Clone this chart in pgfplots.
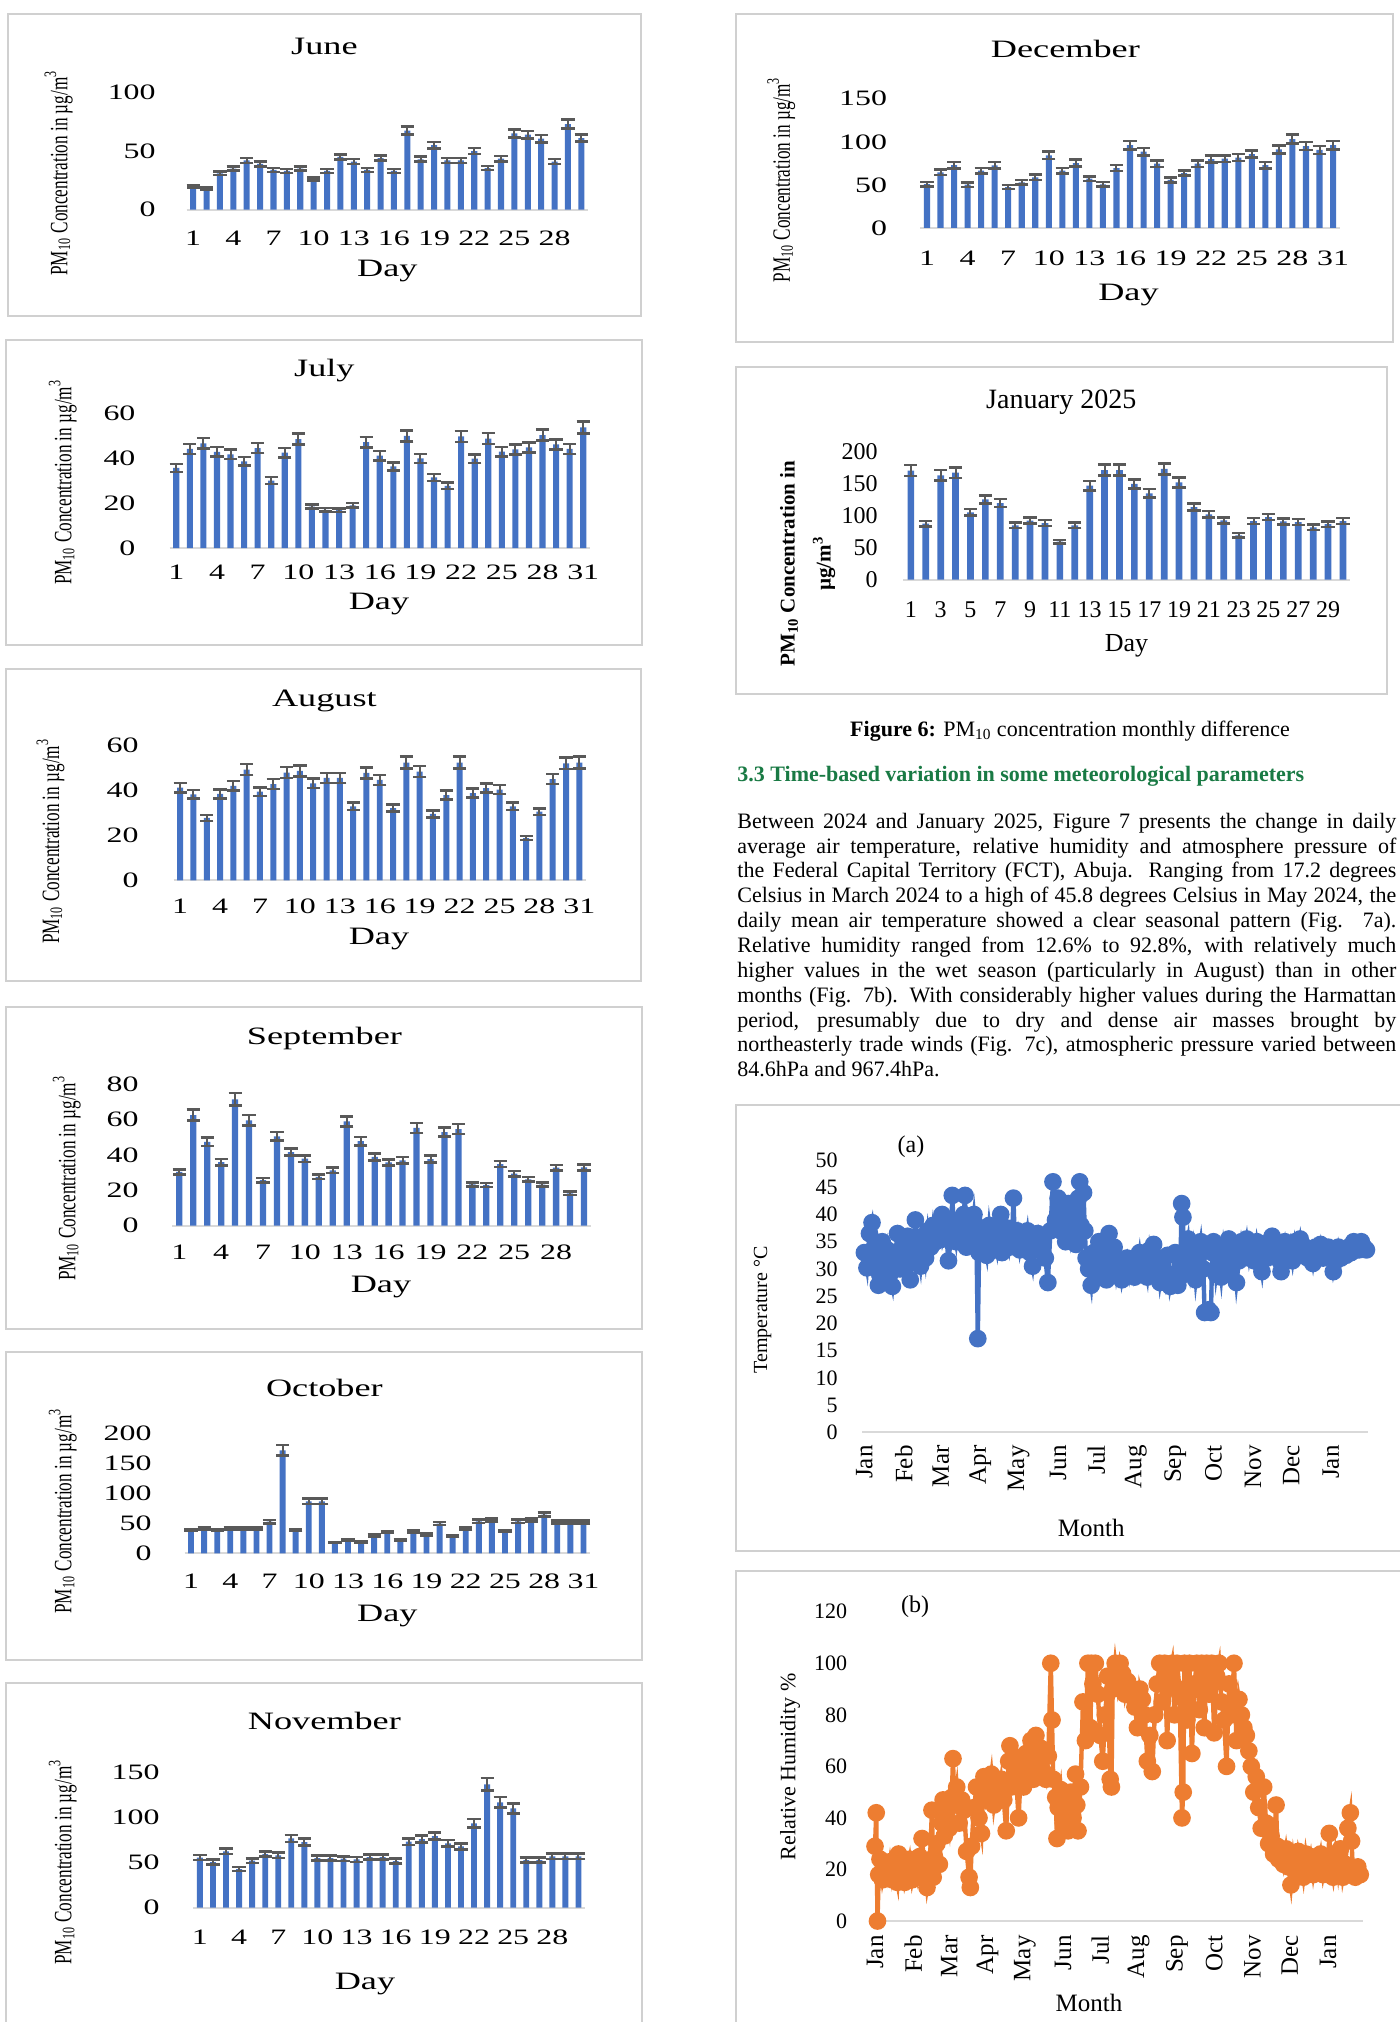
\documentclass[border=0pt]{standalone}
\usepackage{fontspec}
\setmainfont{Liberation Serif}
\newfontfamily\wide[FakeStretch=1.45]{Liberation Serif}
\usepackage{graphicx}
\usepackage{pgfplots}
\pgfplotsset{compat=1.18}

\definecolor{barblue}{HTML}{4472C4}
\definecolor{errgray}{HTML}{595959}
\definecolor{axisgray}{HTML}{D9D9D9}
\definecolor{boxgray}{HTML}{D0D0D0}
\definecolor{rhorange}{HTML}{ED7D31}
\definecolor{headgreen}{RGB}{25,122,68}

\newcommand\pmlab{PM\textsubscript{10} Concentration in µg/m\textsuperscript{3}}
\newcommand\wlab[1]{\node[rotate=90] at (#1) {\scalebox{1}[1.45]{\fontsize{8.6}{10}\selectfont\pmlab}};}
\newcommand\wtxt[2]{\node[font=\wide\fontsize{12.5}{14}\selectfont] at (#1) {#2};}

\pgfplotsset{
  pmbase/.style={
    scale only axis, anchor=south west, clip=false,
    ymin=0,
    axis x line=bottom, axis y line=left,
    x axis line style={draw=axisgray, line width=1pt, -},
    y axis line style={draw=none},
    tick style={draw=none}, tick align=inside,
    /pgf/number format/assume math mode=true,
    yticklabel style={anchor=east, inner sep=0pt},
    xticklabel style={anchor=center, inner sep=0pt},
  },
  pmbar/.style={pmbase, xmin=0.5,
    yticklabel style={font=\wide\fontsize{11}{11}\selectfont},
    xticklabel style={font=\wide\fontsize{11}{11}\selectfont}},
  pmbars/.style={ybar, bar width=0.45, fill=barblue, draw=none,
    error bars/y dir=both, error bars/y fixed relative=0.05,
    error bars/error bar style={line width=1pt, errgray},
    error bars/error mark options={rotate=90, errgray, mark size=3.3pt, line width=1.3pt}},
  metline/.style={line width=2.2pt, mark=*, mark size=3.3pt,
    mark options={line width=0.4pt}},
}

\begin{document}
\begin{tikzpicture}
\fill[white] (0,0) rectangle (700pt,-1011pt);

% ---------- frames
\draw[boxgray, line width=1pt] (4pt,-7pt) rectangle (320.5pt,-158pt);
\draw[boxgray, line width=1pt] (3.2pt,-170pt) rectangle (321pt,-322.5pt);
\draw[boxgray, line width=1pt] (3pt,-334.5pt) rectangle (320.5pt,-490.5pt);
\draw[boxgray, line width=1pt] (3pt,-503.5pt) rectangle (321pt,-664.5pt);
\draw[boxgray, line width=1pt] (3pt,-676pt) rectangle (321pt,-830pt);
\draw[boxgray, line width=1pt] (3pt,-841.5pt) rectangle (321pt,-1015pt);
\draw[boxgray, line width=1pt] (368pt,-7pt) rectangle (696.5pt,-171pt);
\draw[boxgray, line width=1pt] (368pt,-183.5pt) rectangle (693.5pt,-347pt);
\draw[boxgray, line width=1pt] (368pt,-552.5pt) rectangle (702.5pt,-775.5pt);
\draw[boxgray, line width=1pt] (368pt,-785.5pt) rectangle (702.5pt,-1015pt);

% ---------- June
\begin{axis}[pmbar, at={(93.25pt,-104.85pt)}, width=200.75pt, height=58.65pt,
  xmax=30.5, ymax=100, ytick={0,50,100}, xtick={1,4,...,28},
  yticklabel style={xshift=-15.25pt}, xticklabel style={yshift=-14.15pt}]
\addplot[pmbars] coordinates {(1,20)(2,18)(3,31)(4,35)(5,42)(6,39)(7,34)(8,33)(9,35)(10,26)(11,33)(12,45)(13,41)(14,34)(15,44)(16,33)(17,67.5)(18,43)(19,55)(20,42)(21,42)(22,50)(23,35.5)(24,43.5)(25,65)(26,64)(27,60.5)(28,41)(29,73)(30,61)};
\end{axis}
\wtxt{162.2pt,-23.15pt}{June}
\wtxt{193.65pt,-135.65pt}{Day}
\wlab{29.35pt,-86.5pt}

% ---------- July
\begin{axis}[pmbar, at={(84.75pt,-274pt)}, width=210.25pt, height=67.5pt,
  xmax=31.5, ymax=60, ytick={0,20,40,60}, xtick={1,4,...,31},
  yticklabel style={xshift=-16.85pt}, xticklabel style={yshift=-12.15pt}]
\addplot[pmbars] coordinates {(1,35.6)(2,44)(3,46.5)(4,42.7)(5,41.6)(6,38.5)(7,44.4)(8,30)(9,42.4)(10,48.4)(11,18.4)(12,17)(13,16.8)(14,19)(15,47)(16,41)(17,36.3)(18,49.8)(19,39.8)(20,31.4)(21,27.6)(22,49.6)(23,39.7)(24,48.6)(25,42.8)(26,43.8)(27,44.7)(28,50.2)(29,46)(30,44)(31,53.6)};
\end{axis}
\wtxt{162.2pt,-185.35pt}{July}
\wtxt{189.5pt,-302pt}{Day}
\wlab{31.4pt,-241.15pt}

% ---------- August
\begin{axis}[pmbar, at={(86.75pt,-440.15pt)}, width=206.25pt, height=67.5pt,
  xmax=31.5, ymax=60, ytick={0,20,40,60}, xtick={1,4,...,31},
  yticklabel style={xshift=-17.25pt}, xticklabel style={yshift=-13pt}]
\addplot[pmbars] coordinates {(1,41.2)(2,38.2)(3,27.7)(4,38.4)(5,42)(6,49.2)(7,39.4)(8,42.8)(9,47.9)(10,48.6)(11,43.1)(12,45.5)(13,45.5)(14,32.9)(15,47.7)(16,44.6)(17,32.1)(18,52.3)(19,48.3)(20,29.5)(21,37.9)(22,52.3)(23,38.8)(24,41)(25,40.3)(26,32.9)(27,18.8)(28,30.5)(29,45)(30,52)(31,52.3)};
\end{axis}
\wtxt{162.2pt,-350.65pt}{August}
\wtxt{189.5pt,-469.35pt}{Day}
\wlab{25.3pt,-420.65pt}

% ---------- September
\begin{axis}[pmbar, at={(86.15pt,-612.85pt)}, width=209.35pt, height=70.7pt,
  xmax=30.5, ymax=80, ytick={0,20,...,80}, xtick={1,4,...,28},
  yticklabel style={xshift=-16.65pt}, xticklabel style={yshift=-13.3pt}]
\addplot[pmbars] coordinates {(1,30.4)(2,62.6)(3,47.4)(4,36)(5,71.5)(6,59.6)(7,25.8)(8,50.6)(9,41.7)(10,37.9)(11,27.7)(12,31.3)(13,59)(14,47.9)(15,38.9)(16,35.8)(17,37)(18,55.3)(19,37.7)(20,53)(21,54.7)(22,23.4)(23,23)(24,34.9)(25,29.4)(26,26.2)(27,23.2)(28,32.8)(29,18.3)(30,33)};
\end{axis}
\wtxt{162.2pt,-519.15pt}{September}
\wtxt{190.5pt,-643.35pt}{Day}
\wlab{33.4pt,-589.15pt}

% ---------- October
\begin{axis}[pmbar, at={(92.25pt,-776.65pt)}, width=202.75pt, height=60pt,
  xmax=31.5, ymax=200, ytick={0,50,...,200}, xtick={1,4,...,31},
  yticklabel style={xshift=-16.25pt}, xticklabel style={yshift=-13.85pt}]
\addplot[pmbars] coordinates {(1,38.9)(2,41.7)(3,38.9)(4,41.7)(5,41.7)(6,41.7)(7,52.8)(8,171.7)(9,38.9)(10,86.7)(11,86.7)(12,17.8)(13,22.8)(14,18.9)(15,30)(16,35.6)(17,22.2)(18,36.7)(19,31.7)(20,49.4)(21,28.3)(22,41.1)(23,53.3)(24,55.6)(25,37.2)(26,53.3)(27,55.6)(28,64.4)(29,52.2)(30,52.2)(31,52.2)};
\end{axis}
\wtxt{162.2pt,-693.85pt}{October}
\wtxt{193.65pt,-808pt}{Day}
\wlab{31.4pt,-755.5pt}

% ---------- November
\begin{axis}[pmbar, at={(96.7pt,-953.85pt)}, width=195.8pt, height=67.85pt,
  xmax=30.5, ymax=150, ytick={0,50,100,150}, xtick={1,4,...,28},
  yticklabel style={xshift=-16.7pt}, xticklabel style={yshift=-14.65pt}]
\addplot[pmbars] coordinates {(1,55.3)(2,50.5)(3,62.3)(4,42.8)(5,52)(6,59.3)(7,57.9)(8,76.7)(9,72.6)(10,54.9)(11,54.9)(12,54.2)(13,53.4)(14,56)(15,56)(16,51.6)(17,73)(18,75.9)(19,79.2)(20,71.1)(21,67.8)(22,93.3)(23,136.4)(24,116.5)(25,109.8)(26,52.7)(27,52.7)(28,56.8)(29,56.8)(30,56.8)};
\end{axis}
\wtxt{162.2pt,-860.65pt}{November}
\wtxt{182.5pt,-991.85pt}{Day}
\wlab{31.4pt,-931pt}

% ---------- December
\begin{axis}[pmbar, at={(460.1pt,-114pt)}, width=209.8pt, height=64.65pt,
  xmax=31.5, ymax=150, ytick={0,50,100,150}, xtick={1,4,...,31},
  yticklabel style={xshift=-16.4pt}, xticklabel style={yshift=-15pt}]
\addplot[pmbars] coordinates {(1,51)(2,64.6)(3,73)(4,50.3)(5,66.5)(6,72.7)(7,47.5)(8,53)(9,58.8)(10,84.3)(11,66.5)(12,75.4)(13,57.2)(14,50.6)(15,69.6)(16,96.2)(17,88.5)(18,74.6)(19,55.7)(20,63.8)(21,74.6)(22,80)(23,80.4)(24,81.6)(25,85.8)(26,73)(27,91.2)(28,103.2)(29,95.1)(30,90.5)(31,96.2)};
\end{axis}
\wtxt{532.7pt,-24.5pt}{December}
\wtxt{564.25pt,-147.35pt}{Day}
\wlab{390.65pt,-89.85pt}

% ---------- January 2025
\begin{axis}[pmbase, xmin=0.5, at={(451.7pt,-289.85pt)}, width=223.5pt, height=63.85pt,
  xmax=30.5, ymax=200, ytick={0,50,...,200}, xtick={1,3,...,29},
  yticklabel style={font=\fontsize{12}{12}\selectfont, xshift=-12.7pt},
  xticklabel style={font=\fontsize{12}{12}\selectfont, yshift=-15pt}]
\addplot[pmbars] coordinates {(1,170.8)(2,87.7)(3,163.4)(4,167.6)(5,105.5)(6,125.8)(7,120.1)(8,85.1)(9,92.4)(10,88.8)(11,59.5)(12,85.1)(13,147.3)(14,171.8)(15,171.8)(16,149.9)(17,135.2)(18,173.4)(19,152.5)(20,113.8)(21,102.3)(22,93)(23,69.5)(24,91.9)(25,98.2)(26,91.4)(27,90.3)(28,82)(29,87.2)(30,91.9)};
\end{axis}
\node[font=\fontsize{14}{16}\selectfont] at (530.6pt,-201pt) {January 2025};
\node[font=\fontsize{13}{15}\selectfont] at (563.2pt,-322.65pt) {Day};
\node[rotate=90, align=center, font=\bfseries\fontsize{10.5}{18}\selectfont] at (403.8pt,-281.85pt)
  {PM\textsubscript{10} Concentration in\\ µg/m\textsuperscript{3}};

% ---------- caption, heading, paragraph
\node[anchor=base, inner sep=0pt, font=\fontsize{11}{13}\selectfont] at (535pt,-368.35pt)
  {\textbf{Figure 6:} PM\textsubscript{10} concentration monthly difference};
\node[anchor=base west, inner sep=0pt, text=headgreen, font=\bfseries\fontsize{11}{13}\selectfont] at (368.5pt,-390.85pt)
  {3.3 Time-based variation in some meteorological parameters};
\begin{scope}[every node/.style={anchor=base west, inner sep=0pt, font=\fontsize{11}{13}\selectfont}]
\node at (368.5pt,-414.15pt) {\makebox[329.5pt][s]{Between 2024 and January 2025, Figure 7 presents the change in daily}};
\node at (368.5pt,-426.57pt) {\makebox[329.5pt][s]{average air temperature, relative humidity and atmosphere pressure of}};
\node at (368.5pt,-438.99pt) {\makebox[329.5pt][s]{the Federal Capital Territory (FCT), Abuja. Ranging from 17.2 degrees}};
\node at (368.5pt,-451.41pt) {\makebox[329.5pt][s]{Celsius in March 2024 to a high of 45.8 degrees Celsius in May 2024, the}};
\node at (368.5pt,-463.83pt) {\makebox[329.5pt][s]{daily mean air temperature showed a clear seasonal pattern (Fig. 7a).}};
\node at (368.5pt,-476.25pt) {\makebox[329.5pt][s]{Relative humidity ranged from 12.6\% to 92.8\%, with relatively much}};
\node at (368.5pt,-488.67pt) {\makebox[329.5pt][s]{higher values in the wet season (particularly in August) than in other}};
\node at (368.5pt,-501.09pt) {\makebox[329.5pt][s]{months (Fig. 7b). With considerably higher values during the Harmattan}};
\node at (368.5pt,-513.51pt) {\makebox[329.5pt][s]{period, presumably due to dry and dense air masses brought by}};
\node at (368.5pt,-525.93pt) {\makebox[329.5pt][s]{northeasterly trade winds (Fig. 7c), atmospheric pressure varied between}};
\node at (368.5pt,-538.35pt) {84.6hPa and 967.4hPa.};
\end{scope}

% ---------- (a) temperature
\begin{axis}[pmbase, at={(431.1pt,-716.15pt)}, width=253pt, height=136.15pt,
  xmin=-1.7, xmax=395.4, ymax=50, ytick={0,5,...,50},
  xtick={0,31,60,91,121,152,182,213,244,274,305,335,366},
  xticklabels={Jan,Feb,Mar,Apr,May,Jun,Jul,Aug,Sep,Oct,Nov,Dec,Jan},
  yticklabel style={font=\fontsize{11}{11}\selectfont, xshift=-12.1pt},
  xticklabel style={font=\fontsize{12.5}{12.5}\selectfont, yshift=-6.35pt, rotate=90, anchor=east}]
\addplot[metline, color=barblue, mark options={fill=barblue}] coordinates {
(0,33)(2,30.2)(4,36.5)(6,38.5)(8,34)(10,31.5)(11,27)(12,29)(14,35)(16,30.5)(18,33.5)(20,29)(22,26.8)(24,32)(26,36.5)(28,30)(30,34)
(32,31)(34,36)(36,28)(38,33)(40,39)(42,33.5)(44,30.5)(46,36)(48,32)(50,37)(52,34)(54,38)(56,35)(58,36.5)
(60,38)(61,40)(62,35.5)(64,37)(66,31.5)(68,36)(69,43.5)(70,38)(72,35)(74,39)(76,37.5)(78,40)(79,43.5)(80,34)(82,38)(84,36)(86,40)(88,35)(89,17.2)
(90,33)(92,37.5)(94,35)(96,32.5)(98,38)(100,34.5)(102,36)(104,33.5)(106,38)(107,40)(108,33)(110,36)(112,37.5)(114,34)(116,36.5)(117,43)(118,35.5)(120,37)
(122,33.5)(124,36)(126,34)(128,37)(130,33)(132,30.5)(134,35)(136,36.5)(138,33.5)(140,35.5)(142,32)(144,27.5)(146,37)(148,46)(150,39)
(152,43)(154,37)(156,41)(158,35)(160,42)(162,36.5)(164,40)(166,34.5)(168,43)(169,46)(170,38)(172,44)(173,37)(174,32)(176,30)(178,27)(180,33)
(182,28.5)(184,35)(186,30)(188,33)(190,28)(192,36.5)(194,31)(196,34)(198,29)(200,31.5)(202,28)(204,30.5)(206,32)(208,29)(210,31.5)(212,28.5)
(214,30)(216,33)(218,29.5)(220,31)(222,28.5)(224,33.5)(226,31)(227,34.5)(228,29)(230,32)(232,27.5)(234,30.5)(236,28)(238,32.5)(240,26.8)(242,29)
(244,33)(246,27)(248,31)(249,42)(250,39.5)(251,29)(252,33)(254,35.5)(256,30)(258,33.5)(260,28)(262,32)(264,35)(266,30)(267,22)(270,22.5)(272,22)
(273,33)(274,35)(276,29)(278,32.5)(280,28.5)(282,34)(284,31)(286,35.5)(288,30)(290,33)(292,27.5)(294,31.5)(296,35)(298,33)(300,35.5)(302,32)(304,34.5)
(306,31.5)(308,35)(310,32.5)(312,29.5)(314,34)(316,32)(318,35)(320,36)(322,33)(324,34.5)(326,31.5)(327,29.5)(328,33)(330,35)(332,32.5)(334,34.5)
(336,31.5)(338,35)(340,33)(342,35.5)(344,32.5)(346,34)(348,32)(350,33.5)(352,31)(354,34)(356,32.5)(358,34.5)(360,32)(362,33)(364,34)
(366,32.5)(368,29.5)(370,31.5)(372,34)(374,32)(376,33.5)(378,32.5)(380,34)(382,33)(384,35)(386,34.5)(388,33.5)(390,35)(392,34)(394,33.5)};
\end{axis}
\node[font=\fontsize{12}{14}\selectfont] at (455.5pt,-573.35pt) {(a)};
\node[font=\fontsize{12.5}{14}\selectfont] at (545.6pt,-764.15pt) {Month};
\node[rotate=90, font=\fontsize{10}{12}\selectfont] at (381.3pt,-655pt) {Temperature °C};

% ---------- (b) relative humidity
\begin{axis}[pmbase, at={(437.5pt,-960.5pt)}, width=243.85pt, height=154.65pt,
  xmin=0, xmax=394, ymax=120, ytick={0,20,...,120},
  xtick={0,31,60,91,121,152,182,213,244,274,305,335,366},
  xticklabels={Jan,Feb,Mar,Apr,May,Jun,Jul,Aug,Sep,Oct,Nov,Dec,Jan},
  yticklabel style={font=\fontsize{11}{11}\selectfont, xshift=-13.8pt},
  xticklabel style={font=\fontsize{12.5}{12.5}\selectfont, yshift=-7pt, rotate=90, anchor=east}]
\addplot[metline, color=rhorange, mark options={fill=rhorange}] coordinates {
(0,29)(1,42)(2,0)(3,18)(4,24)(6,16)(8,21)(10,17)(12,23)(14,16)(16,20)(18,15)(19,26)(20,18)(22,22)(24,15)(26,19)(28,24)(30,16)
(32,21)(34,17)(36,25)(38,32)(39,18)(40,22)(42,13)(44,19)(46,43)(47,17)(48,25)(50,30)(52,22)(54,38)(55,47)(56,33)(58,42)
(60,36)(62,48)(63,63)(64,45)(66,52)(68,38)(70,47)(72,43)(74,27)(76,17)(77,13)(78,29)(80,44)(82,52)(84,40)(86,34)(88,56)(90,47)
(92,50)(94,57)(96,45)(98,52)(100,48)(102,55)(104,47)(106,35)(108,62)(109,68)(110,52)(112,64)(114,55)(116,40)(118,60)(120,52)
(122,65)(124,58)(126,70)(128,55)(130,72)(132,62)(134,67)(136,58)(138,55)(140,64)(142,100)(143,78)(144,55)(146,48)(147,32)(148,44)(150,51)
(152,38)(154,47)(156,35)(158,50)(160,40)(162,57)(163,45)(164,35)(166,52)(168,85)(170,70)(172,100)(174,75)(175,100)(176,92)(178,100)(180,88)
(182,72)(184,62)(186,80)(188,95)(190,55)(191,52)(192,90)(194,100)(196,92)(198,100)(200,96)(202,88)(204,93)(206,90)(208,87)(210,83)(212,75)
(214,90)(216,86)(218,80)(220,62)(222,72)(224,58)(226,80)(228,92)(230,100)(232,85)(234,100)(236,70)(238,95)(240,100)(242,80)
(244,100)(246,90)(248,40)(249,50)(250,100)(252,78)(254,100)(256,65)(258,92)(260,100)(262,82)(264,100)(266,75)(268,100)(270,88)(272,100)
(274,73)(276,95)(278,100)(280,85)(282,78)(284,60)(286,92)(288,80)(290,100)(292,70)(294,86)(296,80)(298,75)(300,72)(302,66)(304,60)
(306,50)(308,56)(310,44)(312,36)(314,52)(316,38)(318,30)(320,33)(322,26)(324,45)(325,29)(326,24)(328,27)(330,22)(332,28)(334,21)
(336,14)(338,25)(340,19)(342,27)(344,23)(346,17)(348,26)(350,20)(352,25)(354,18)(356,24)(358,21)(360,26)(362,18)(364,23)
(366,20)(367,34)(368,22)(370,17)(372,26)(374,19)(376,28)(378,17)(380,22)(382,36)(384,42)(385,31)(386,20)(388,17)(390,21)(392,18)};
\end{axis}
\node[font=\fontsize{12}{14}\selectfont] at (457.6pt,-803.35pt) {(b)};
\node[font=\fontsize{12.5}{14}\selectfont] at (544.5pt,-1001.65pt) {Month};
\node[rotate=90, font=\fontsize{11}{13}\selectfont] at (395pt,-883.35pt) {Relative Humidity \%};

\pgfresetboundingbox
\useasboundingbox (0,0) rectangle (700pt,-1011pt);
\end{tikzpicture}
\end{document}
